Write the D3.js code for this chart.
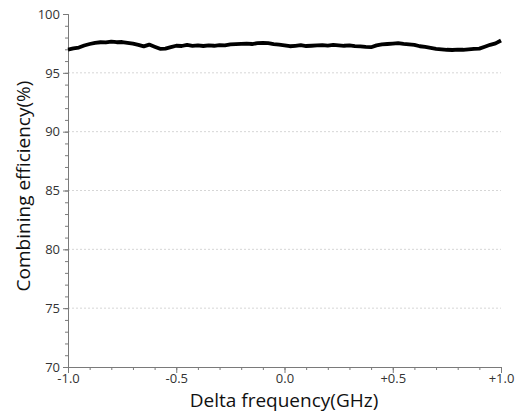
<!DOCTYPE html>
<html>
<head>
    <title>Combining efficiency</title>
    <script src="https://cdn.jsdelivr.net/npm/d3@7/dist/d3.min.js"></script>
    <style>
        body { margin: 0; background: #fff; }
        text { font-family: "Open Sans", "Noto Sans", sans-serif; }
    </style>
</head>
<body>
    <svg width="520" height="414" id="mainsvg"></svg>
    <script>
        // delta frequency (GHz)
        const freq = [
            -1.000, -0.975, -0.950, -0.925, -0.900, -0.875, -0.850, -0.825, -0.800, -0.775,
            -0.750, -0.725, -0.700, -0.675, -0.650, -0.625, -0.600, -0.575, -0.550, -0.525,
            -0.500, -0.475, -0.450, -0.425, -0.400, -0.375, -0.350, -0.325, -0.300, -0.275,
            -0.250, -0.225, -0.200, -0.175, -0.150, -0.125, -0.100, -0.075, -0.050, -0.025,
            0.000, 0.025, 0.050, 0.075, 0.100, 0.125, 0.150, 0.175, 0.200, 0.225,
            0.250, 0.275, 0.300, 0.325, 0.350, 0.375, 0.400, 0.425, 0.450, 0.475,
            0.500, 0.525, 0.550, 0.575, 0.600, 0.625, 0.650, 0.675, 0.700, 0.725,
            0.750, 0.775, 0.800, 0.825, 0.850, 0.875, 0.900, 0.925, 0.950, 0.975, 1.000
        ];
        // combining efficiency (%)
        const efficiency = [
            96.98, 97.08, 97.15, 97.32, 97.45, 97.55, 97.60, 97.58, 97.66, 97.60,
            97.62, 97.55, 97.48, 97.38, 97.25, 97.40, 97.22, 97.04, 97.06, 97.18,
            97.30, 97.28, 97.38, 97.30, 97.34, 97.28, 97.33, 97.30, 97.36, 97.34,
            97.42, 97.44, 97.46, 97.48, 97.45, 97.52, 97.55, 97.52, 97.44, 97.40,
            97.34, 97.26, 97.30, 97.35, 97.28, 97.30, 97.33, 97.36, 97.32, 97.37,
            97.34, 97.30, 97.33, 97.27, 97.25, 97.20, 97.18, 97.33, 97.42, 97.45,
            97.48, 97.52, 97.46, 97.42, 97.38, 97.26, 97.20, 97.12, 97.04, 97.00,
            96.96, 96.94, 96.98, 96.96, 97.00, 97.04, 97.06, 97.22, 97.38, 97.50, 97.75
        ];
        const xTicks = [-1.0, -0.5, 0.0, 0.5, 1.0];
        const xTickLabels = ['-1.0', '-0.5', '0.0', '+0.5', '+1.0'];
        const yTicks = [70, 75, 80, 85, 90, 95, 100];

        const svg = d3.select('#mainsvg');
        const margin = { top: 14, right: 19, bottom: 47, left: 68 };
        const innerWidth = 520 - margin.left - margin.right;
        const innerHeight = 414 - margin.top - margin.bottom;
        const g = svg.append('g')
            .attr('transform', `translate(${margin.left}, ${margin.top})`);

        const xScale = d3.scaleLinear().domain([-1, 1]).range([0, innerWidth]);
        const yScale = d3.scaleLinear().domain([70, 100]).range([innerHeight, 0]);
        const axisColor = '#7a7a7a';

        // dashed grid lines
        g.selectAll('.grid').data(yTicks.filter(d => d > 70 && d < 100)).join('line')
            .attr('class', 'grid')
            .attr('x1', 0).attr('x2', innerWidth)
            .attr('y1', d => yScale(d)).attr('y2', d => yScale(d))
            .attr('stroke', '#d6d6d6').attr('stroke-dasharray', '2,2');

        // minor ticks (no labels)
        const yAxisMinor = d3.axisLeft(yScale).ticks(30).tickSize(3).tickFormat('');
        const xAxisMinor = d3.axisBottom(xScale).ticks(20).tickSize(3).tickFormat('');
        g.append('g').call(yAxisMinor).selectAll('text').remove();
        g.append('g').attr('transform', `translate(0, ${innerHeight})`).call(xAxisMinor)
            .selectAll('text').remove();

        // major ticks
        const yAxis = d3.axisLeft(yScale).tickValues(yTicks).tickSize(5).tickPadding(3);
        const xAxis = d3.axisBottom(xScale).tickValues(xTicks).tickSize(6).tickPadding(1)
            .tickFormat((d, i) => xTickLabels[i]);
        g.append('g').call(yAxis);
        g.append('g').attr('transform', `translate(0, ${innerHeight})`).call(xAxis);

        g.selectAll('.domain, .tick line').attr('stroke', axisColor);
        g.selectAll('.tick text').attr('fill', '#333').attr('font-size', '13px')
            .style('font-family', '"Open Sans", "Noto Sans", sans-serif');

        // data line
        const line = d3.line()
            .x((d, i) => xScale(freq[i]))
            .y(d => yScale(d));
        g.append('path')
            .datum(efficiency)
            .attr('d', line)
            .attr('fill', 'none')
            .attr('stroke', '#000')
            .attr('stroke-width', 3.8)
            .attr('stroke-linejoin', 'round');

        // axis titles
        svg.append('text')
            .attr('x', 284).attr('y', 407)
            .attr('text-anchor', 'middle')
            .attr('font-size', '19px')
            .attr('fill', '#111')
            .text('Delta frequency(GHz)');
        svg.append('text')
            .attr('transform', 'translate(30, 186) rotate(-90)')
            .attr('text-anchor', 'middle')
            .attr('font-size', '19px')
            .attr('fill', '#111')
            .text('Combining efficiency(%)');
    </script>
</body>
</html>
